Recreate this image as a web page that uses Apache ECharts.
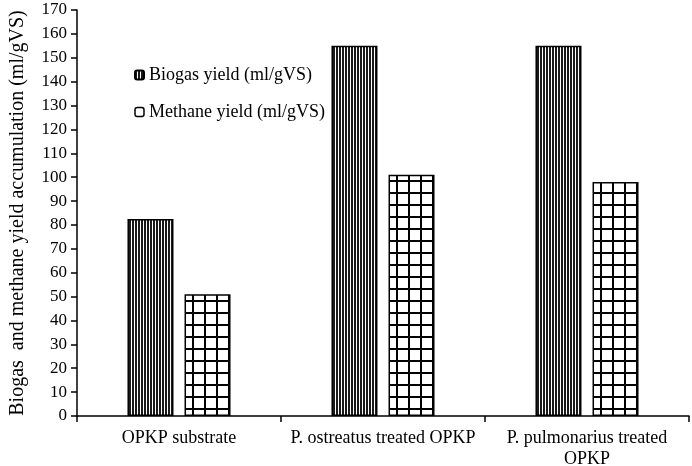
<!DOCTYPE html>
<html>
<head>
<meta charset="utf-8">
<script src="https://cdn.jsdelivr.net/npm/echarts@6/dist/echarts.min.js"></script>
<style>
html,body{margin:0;padding:0;background:#fff;}
#chart{width:692px;height:466px;}
</style>
</head>
<body>
<div id="chart"></div>
<script>
const categories = ['OPKP substrate', 'P. ostreatus treated OPKP', 'P. pulmonarius treated\nOPKP'];
const biogasYield = [82.5, 155, 155];
const methaneYield = [51, 101, 98];
const seriesNames = ['Biogas yield (ml/gVS)', 'Methane yield (ml/gVS)'];
const yAxisTitle = 'Biogas  and methane yield accumulation (ml/gVS)';

function stripePattern() {
  const c = document.createElement('canvas');
  c.width = 3; c.height = 3;
  const ctx = c.getContext('2d');
  ctx.fillStyle = '#fff'; ctx.fillRect(0, 0, 3, 3);
  ctx.fillStyle = '#1a1a1a'; ctx.fillRect(0, 0, 2, 3);
  return c;
}
function gridPattern() {
  const c = document.createElement('canvas');
  c.width = 12; c.height = 12;
  const ctx = c.getContext('2d');
  ctx.fillStyle = '#fff'; ctx.fillRect(0, 0, 12, 12);
  ctx.fillStyle = '#000';
  ctx.fillRect(0, 0, 12, 2);
  ctx.fillRect(0, 0, 2, 12);
  return c;
}

const font = 'Liberation Serif';
const chart = echarts.init(document.getElementById('chart'), null, {renderer: 'canvas'});
chart.setOption({
  animation: false,
  backgroundColor: '#fff',
  textStyle: {fontFamily: font, color: '#000'},
  grid: {left: 77, right: 3, top: 10, bottom: 50, containLabel: false, outerBoundsMode: 'none'},
  legend: {
    orient: 'vertical',
    left: 129, top: 61,
    itemWidth: 9, itemHeight: 9, itemGap: 19,
    textStyle: {fontFamily: font, fontSize: 18, color: '#000'},
    data: [
      {name: seriesNames[0]},
      {name: seriesNames[1], itemStyle: {color: '#fff', borderColor: '#000', borderWidth: 1.5}}
    ]
  },
  xAxis: {
    type: 'category',
    data: categories,
    axisLine: {lineStyle: {color: '#000', width: 1.5}},
    axisTick: {show: true, length: 6, lineStyle: {color: '#000', width: 1.5}},
    axisLabel: {fontFamily: font, fontSize: 18, color: '#000', margin: 12, lineHeight: 21, interval: 0}
  },
  yAxis: {
    type: 'value',
    min: 0, max: 170, interval: 10,
    name: yAxisTitle,
    nameLocation: 'middle',
    nameGap: 49,
    nameTextStyle: {fontFamily: font, fontSize: 20, color: '#000'},
    axisLine: {show: true, lineStyle: {color: '#000', width: 1.5}},
    axisTick: {show: true, length: 6, lineStyle: {color: '#000', width: 1.5}},
    axisLabel: {fontFamily: font, fontSize: 17, color: '#000', margin: 10},
    splitLine: {show: false}
  },
  series: [
    {
      name: seriesNames[0], type: 'bar', data: biogasYield,
      barWidth: 46, barGap: '24%',
      itemStyle: {color: {image: stripePattern(), repeat: 'repeat'}, borderColor: '#000', borderWidth: 1.5}
    },
    {
      name: seriesNames[1], type: 'bar', data: methaneYield,
      barWidth: 46,
      itemStyle: {color: {image: gridPattern(), repeat: 'repeat'}, borderColor: '#000', borderWidth: 1.5}
    }
  ]
});
</script>
</body>
</html>
